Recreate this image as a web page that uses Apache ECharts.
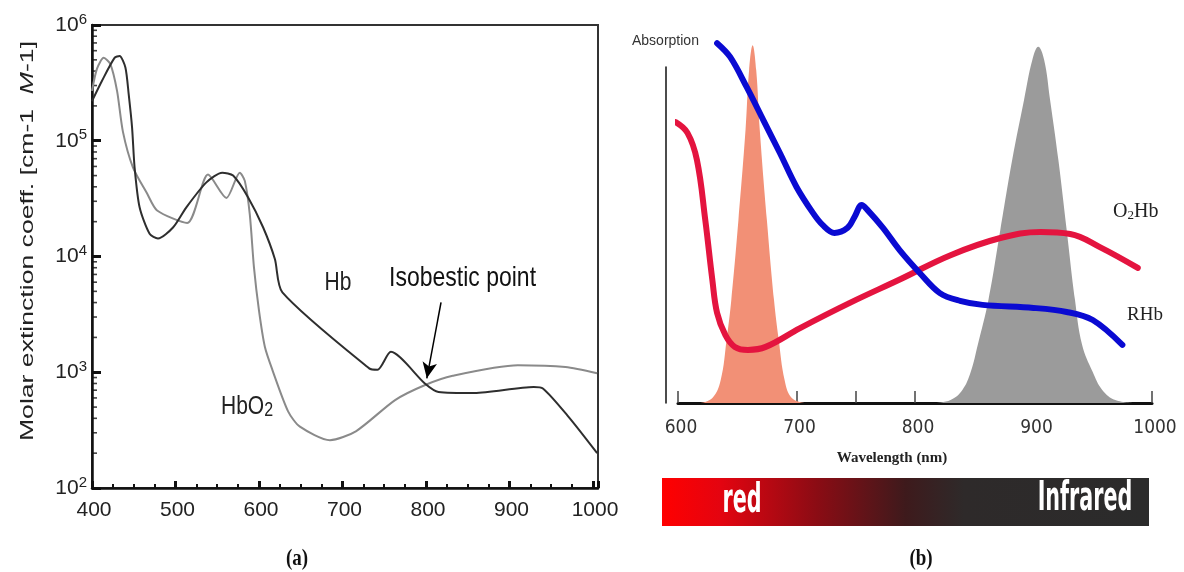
<!DOCTYPE html>
<html>
<head>
<meta charset="utf-8">
<script src="https://cdn.jsdelivr.net/npm/echarts@6/dist/echarts.min.js"></script>
<style>
  html, body { margin: 0; padding: 0; background: #fff; }
  #chart { width: 1184px; height: 572px; }
</style>
</head>
<body>
<div id="chart"></div>
<script>
// (a) molar extinction coefficient, log scale
const hbWave = [400, 412, 427, 433, 440, 444, 448, 451, 457, 469, 479, 497, 513, 537, 556, 569, 587, 605, 619, 628, 732, 742, 758, 799, 815, 858, 929, 940, 971, 1005]
const hbCoef = [2.2e5, 3.3e5, 5.2e5, 5.4e5, 4.3e5, 2.5e5, 1.3e5, 5.9e4, 2.66e4, 1.57e4, 1.43e4, 1.78e4, 2.66e4, 4.37e4, 5.3e4, 5.0e4, 3.24e4, 1.78e4, 9.5e3, 4.9e3, 1.08e3, 1.05e3, 1.5e3, 796, 676, 662, 745, 725, 410, 200]
const hbo2Wave = [400, 406, 414, 422, 430, 437, 449, 466, 478, 514, 539, 561, 577, 583, 589, 594, 600, 607, 616, 635, 649, 685, 716, 763, 799, 832, 910, 967, 1005]
const hbo2Coef = [2.7e5, 4.2e5, 5.2e5, 4.6e5, 2.7e5, 1.2e5, 5.9e4, 3.5e4, 2.5e4, 1.95e4, 5.1e4, 3.2e4, 5.3e4, 4.5e4, 2.3e4, 8e3, 3.4e3, 1.66e3, 1.05e3, 457, 339, 259, 309, 575, 776, 933, 1150, 1110, 980]
const logTicksMinor = [2, 3, 4, 5, 6, 7, 8, 9]
const logDecades = [100, 1000, 1e4, 1e5]
const arrowFrom = [818, 4010]
const arrowTo = [801, 887]

// (b) absorption, arbitrary units
const o2hbWave = [598, 608, 616, 623, 629, 633, 640, 648, 659, 674, 703, 745, 788, 830, 872, 906, 931, 956, 988]
const o2hbAbs = [83.6, 80.4, 72.3, 54.5, 36.6, 26.8, 20.2, 16.7, 15.8, 16.7, 22.3, 29.8, 36.9, 44, 49.1, 50.9, 50.3, 46.4, 40.2]
const rhbWave = [633, 644, 658, 672, 686, 700, 714, 722, 732, 743, 749, 755, 760, 773, 787, 804, 821, 838, 857, 900, 928, 950, 975]
const rhbAbs = [107.1, 103, 94, 84.2, 74.4, 64.3, 56.5, 53, 50.6, 52.1, 55.4, 58.9, 57.4, 52.1, 45.5, 38.7, 32.7, 30.4, 29.2, 28.3, 27.1, 24.7, 17.3]
const redBandWave = [619, 629, 636, 641, 645, 651, 657, 660, 663, 666, 669, 675, 681, 685, 690, 696, 707]
const redBandAbs = [0, 1.5, 6.8, 18.8, 30.7, 54.5, 81.3, 99.1, 106.5, 99.1, 81.3, 54.5, 30.7, 18.8, 6.8, 1.5, 0]
const irBandWave = [817, 830, 840, 847, 853, 862, 872, 882, 892, 899, 904, 909, 914, 921, 928, 935, 941, 950, 958, 969, 986]
const irBandAbs = [0, 0.9, 3.9, 9.2, 17.3, 30.7, 51.5, 72.3, 90.2, 102.1, 106, 102.1, 90.2, 72.3, 51.5, 30.7, 17.3, 9.2, 3.9, 0.9, 0]

const pairs = (xs, ys) => xs.map((x, i) => [x, ys[i]])

const SANS = '"Liberation Sans", Arial, sans-serif'
const NARROW = '"Liberation Sans Narrow", "DejaVu Sans Condensed", "Liberation Sans", sans-serif'
const SERIF = '"Liberation Serif", "Times New Roman", serif'

// minor ticks of the log axis (2..9 in each decade)
const minorTickData = []
logDecades.forEach(d => logTicksMinor.forEach(m => minorTickData.push([400, m * d])))

const chart = echarts.init(document.getElementById('chart'))

chart.setOption({
  animation: false,
  backgroundColor: '#fff',
  grid: [
    { left: 92, top: 25, width: 506, height: 463, show: true, borderColor: '#333', borderWidth: 2 },
    { left: 678, top: 67, width: 474, height: 336 },
  ],
  xAxis: [
    {
      gridIndex: 0,
      type: 'value',
      min: 400,
      max: 1006,
      interval: 100,
      axisLine: { lineStyle: { color: '#111', width: 2.5 } },
      axisTick: { inside: true, length: 7, lineStyle: { color: '#111', width: 3 } },
      minorTick: { show: true, splitNumber: 4, length: 4, lineStyle: { color: '#111', width: 2 } },
      splitLine: { show: false },
      axisLabel: {
        formatter: v => (v % 100 === 0 ? String(v) : ''),
        fontFamily: SANS,
        fontSize: 21,
        color: '#222',
        margin: 12,
        padding: [0, 0, 0, 4],
      },
    },
    {
      gridIndex: 1,
      type: 'value',
      min: 600,
      max: 1000,
      interval: 50,
      axisLine: { lineStyle: { color: '#111', width: 3 } },
      axisTick: { inside: true, length: 12, lineStyle: { color: '#444', width: 1.5 } },
      splitLine: { show: false },
      axisLabel: {
        formatter: v => (v % 100 === 0 ? String(v) : ''),
        fontFamily: NARROW,
        fontSize: 19,
        color: '#333',
        margin: 16,
        padding: [0, 0, 0, 6],
      },
    },
  ],
  yAxis: [
    {
      gridIndex: 0,
      type: 'log',
      logBase: 10,
      min: 100,
      max: 1e6,
      splitNumber: 4,
      axisLine: { show: true, lineStyle: { color: '#111', width: 2.5 } },
      axisTick: { show: true, inside: true, length: 9, lineStyle: { color: '#111', width: 3 } },
      splitLine: { show: false },
      axisLabel: {
        margin: 5,
        formatter: v => '{a|10}{e|' + Math.round(Math.log10(v)) + '}',
        rich: {
          a: { fontFamily: SANS, fontSize: 21, color: '#222', lineHeight: 26 },
          e: { fontFamily: SANS, fontSize: 15, color: '#222', lineHeight: 14, verticalAlign: 'top' },
        },
      },
    },
    {
      gridIndex: 1,
      type: 'value',
      min: 0,
      max: 100,
      offset: 12,
      axisLine: { show: true, lineStyle: { color: '#111', width: 1.5 } },
      axisTick: { show: false },
      axisLabel: { show: false },
      splitLine: { show: false },
    },
  ],
  series: [
    {
      type: 'scatter',
      xAxisIndex: 0,
      yAxisIndex: 0,
      silent: true,
      symbol: 'rect',
      symbolSize: [5, 1.6],
      symbolOffset: [2.5, 0],
      itemStyle: { color: '#111' },
      data: minorTickData,
      clip: false,
    },
    {
      name: 'HbO2',
      type: 'line',
      xAxisIndex: 0,
      yAxisIndex: 0,
      data: pairs(hbo2Wave, hbo2Coef),
      symbol: 'none',
      smooth: 0.25,
      lineStyle: { color: '#8a8a8a', width: 2 },
    },
    {
      name: 'Hb',
      type: 'line',
      xAxisIndex: 0,
      yAxisIndex: 0,
      data: pairs(hbWave, hbCoef),
      symbol: 'none',
      smooth: 0.25,
      lineStyle: { color: '#2e2e2e', width: 2 },
      markLine: {
        silent: true,
        symbol: ['none', 'arrow'],
        symbolSize: [11, 16],
        label: { show: false },
        lineStyle: { color: '#000', width: 1.5, type: 'solid' },
        data: [[{ coord: arrowFrom }, { coord: arrowTo }]],
      },
    },
    {
      name: 'red band',
      type: 'line',
      xAxisIndex: 1,
      yAxisIndex: 1,
      data: pairs(redBandWave, redBandAbs),
      symbol: 'none',
      smooth: 0.4,
      clip: false,
      lineStyle: { width: 0 },
      areaStyle: { color: '#f29076', opacity: 1 },
      z: 1,
    },
    {
      name: 'infrared band',
      type: 'line',
      xAxisIndex: 1,
      yAxisIndex: 1,
      data: pairs(irBandWave, irBandAbs),
      symbol: 'none',
      smooth: 0.4,
      clip: false,
      lineStyle: { width: 0 },
      areaStyle: { color: '#9b9b9b', opacity: 1 },
      z: 1,
    },
    {
      name: 'O2Hb',
      type: 'line',
      xAxisIndex: 1,
      yAxisIndex: 1,
      data: pairs(o2hbWave, o2hbAbs),
      symbol: 'none',
      smooth: 0.4,
      clip: false,
      lineStyle: { color: '#e4143f', width: 6, cap: 'round' },
      z: 3,
    },
    {
      name: 'RHb',
      type: 'line',
      xAxisIndex: 1,
      yAxisIndex: 1,
      data: pairs(rhbWave, rhbAbs),
      symbol: 'none',
      smooth: 0.35,
      clip: false,
      lineStyle: { color: '#0a0ad2', width: 6, cap: 'round' },
      z: 4,
    },
  ],
  graphic: [
    {
      type: 'text',
      x: 28,
      y: 241,
      rotation: Math.PI / 2,
      scaleX: 1.4,
      style: {
        text: 'Molar extinction coeff. [cm-1  {i|M}-1]',
        fontFamily: SANS,
        fontSize: 19,
        fill: '#222',
        align: 'center',
        verticalAlign: 'middle',
        rich: { i: { fontFamily: SANS, fontSize: 19, fontStyle: 'italic', fill: '#222' } },
      },
    },
    {
      type: 'text', x: 338, y: 283, scaleY: 1.25,
      style: { text: 'Hb', fontFamily: SANS, fontSize: 21, fill: '#222', align: 'center', verticalAlign: 'middle' },
    },
    {
      type: 'text', x: 389, y: 278, scaleY: 1.2,
      style: { text: 'Isobestic point', fontFamily: SANS, fontSize: 23, fill: '#111', align: 'left', verticalAlign: 'middle' },
    },
    {
      type: 'text', x: 221, y: 407, scaleY: 1.25,
      style: {
        text: 'HbO{s|2}',
        fontFamily: SANS, fontSize: 21, fill: '#222', align: 'left', verticalAlign: 'middle',
        rich: { s: { fontFamily: SANS, fontSize: 16, lineHeight: 12, verticalAlign: 'bottom', fill: '#222' } },
      },
    },
    {
      type: 'text', x: 632, y: 41,
      style: { text: 'Absorption', fontFamily: SANS, fontSize: 14, fill: '#333', align: 'left', verticalAlign: 'middle' },
    },
    {
      type: 'text', x: 1113, y: 212,
      style: {
        text: 'O{s|2}Hb',
        fontFamily: SERIF, fontSize: 20, fill: '#222', align: 'left', verticalAlign: 'middle',
        rich: { s: { fontFamily: SERIF, fontSize: 13, lineHeight: 10, verticalAlign: 'bottom', fill: '#222' } },
      },
    },
    {
      type: 'text', x: 1127, y: 315,
      style: { text: 'RHb', fontFamily: SERIF, fontSize: 19, fill: '#222', align: 'left', verticalAlign: 'middle' },
    },
    {
      type: 'text', x: 892, y: 458,
      style: { text: 'Wavelength (nm)', fontFamily: SERIF, fontWeight: 'bold', fontSize: 15, fill: '#222', align: 'center', verticalAlign: 'middle' },
    },
    {
      type: 'rect',
      shape: { x: 662, y: 478, width: 487, height: 48 },
      style: {
        fill: new echarts.graphic.LinearGradient(0, 0, 1, 0, [
          { offset: 0, color: '#ff0000' },
          { offset: 0.12, color: '#e40410' },
          { offset: 0.32, color: '#8a0c14' },
          { offset: 0.5, color: '#3e1a1c' },
          { offset: 0.62, color: '#2e2a2a' },
          { offset: 1, color: '#2b2b2b' },
        ]),
      },
    },
    {
      type: 'text', x: 742, y: 502, scaleY: 1.75,
      style: { text: 'red', fontFamily: NARROW, fontWeight: 'bold', fontSize: 23, fill: '#fff', align: 'center', verticalAlign: 'middle' },
    },
    {
      type: 'text', x: 1085, y: 500, scaleY: 1.75,
      style: { text: 'Infrared', fontFamily: NARROW, fontWeight: 'bold', fontSize: 23, fill: '#fff', align: 'center', verticalAlign: 'middle' },
    },
    {
      type: 'text', x: 297, y: 559, scaleY: 1.25,
      style: { text: '(a)', fontFamily: SERIF, fontWeight: 'bold', fontSize: 19, fill: '#111', align: 'center', verticalAlign: 'middle' },
    },
    {
      type: 'text', x: 921, y: 559, scaleY: 1.25,
      style: { text: '(b)', fontFamily: SERIF, fontWeight: 'bold', fontSize: 19, fill: '#111', align: 'center', verticalAlign: 'middle' },
    },
  ],
})
</script>
</body>
</html>
